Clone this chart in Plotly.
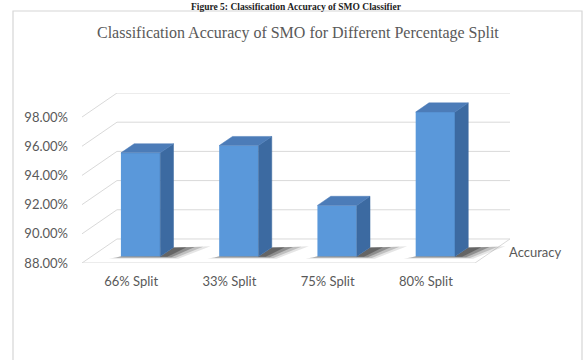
import plotly.graph_objects as go

# ---- data ----
categories = ["66% Split", "33% Split", "75% Split", "80% Split"]
accuracy = [95.1, 95.6, 91.5, 97.9]
y_ticks = [88, 90, 92, 94, 96, 98]
y_tick_labels = [f"{t:.2f}%" for t in y_ticks]
series_name = "Accuracy"
title_text = "Classification Accuracy of SMO for Different Percentage Split"
caption_text = "Figure 5: Classification Accuracy of SMO Classifier"

# ---- oblique 3D projection parameters (in axis units) ----
DX = 0.356   # horizontal depth offset (category units)
DY = 1.646   # vertical depth offset (percent units)
Z0, Z1 = 0.27, 0.65   # bar depth extent (fraction of floor depth)
BW = 0.4              # bar width
YMIN = 88

def proj(x, z, v):
    return x + z * DX, v + z * DY

FRONT = "#5a98da"
SIDE = "#3c6aa1"
TOP = "#4c7cb8"
GRID = "#d9d9d9"
TXT = "#595959"

fig = go.Figure()
shapes = []

# back wall horizontal gridlines and left-wall diagonals
n = len(categories)
xl, xr = -0.5, n - 0.5
for v in y_ticks:
    a = proj(xl, 1, v); b = proj(xr, 1, v)
    shapes.append(dict(type="line", xref="x", yref="y", x0=a[0], y0=a[1], x1=b[0], y1=b[1],
                       line=dict(color=GRID, width=1), layer="below"))
    c = proj(xl, 0, v)
    shapes.append(dict(type="line", xref="x", yref="y", x0=c[0], y0=c[1], x1=a[0], y1=a[1],
                       line=dict(color=GRID, width=1), layer="below"))
# floor front edge and right edge
f0 = proj(xl, 0, YMIN); f1 = proj(xr, 0, YMIN); f2 = proj(xr, 1, YMIN)
shapes.append(dict(type="line", xref="x", yref="y", x0=f0[0], y0=f0[1], x1=f1[0], y1=f1[1],
                   line=dict(color=GRID, width=1), layer="below"))
shapes.append(dict(type="line", xref="x", yref="y", x0=f1[0], y0=f1[1], x1=f2[0], y1=f2[1],
                   line=dict(color=GRID, width=1), layer="below"))

# chart border
L, R, T, B = 82, 510, 93, 263
def px(xp): return (xp - L) / (R - L)
def py(yp): return (B - yp) / (B - T)
shapes.append(dict(type="rect", xref="paper", yref="paper", x0=px(13), x1=px(582), y0=py(400), y1=py(11),
                   line=dict(color="#d6d6d6", width=1.2), layer="below"))

# soft shadows on floor
for i, v in enumerate(accuracy):
    x0 = i - BW / 2; x1 = i + BW / 2
    for (s, e, op) in [(0.36, 0.09, 0.12), (0.29, 0.06, 0.2), (0.21, 0.035, 0.32), (0.13, 0.015, 0.4)]:
        pts = [(x0 - e, Z0 - e), (x1 + s * 0.6, Z0 - e), (x1 + s, Z1 + e * 0.5), (x1, Z1), (x1, Z0), (x0, Z0)]
        xs, ys = zip(*[proj(a, z, YMIN) for a, z in pts])
        fig.add_trace(go.Scatter(x=list(xs) + [xs[0]], y=list(ys) + [ys[0]], mode="lines", fill="toself",
                                 fillcolor=f"rgba(40,40,40,{op})", line=dict(width=0),
                                 hoverinfo="skip", showlegend=False))

# front faces as real bars
fig.add_trace(go.Bar(
    x=[i + Z0 * DX for i in range(n)],
    y=[v - YMIN for v in accuracy],
    base=[YMIN + Z0 * DY] * n,
    width=BW,
    marker=dict(color=FRONT, line=dict(width=0)),
    name=series_name, showlegend=False,
    customdata=categories,
    hovertemplate="%{customdata}: %{y:.2f}<extra></extra>",
))

# side and top faces
for i, v in enumerate(accuracy):
    x0 = i - BW / 2; x1 = i + BW / 2
    side = [proj(x1, Z0, YMIN), proj(x1, Z1, YMIN), proj(x1, Z1, v), proj(x1, Z0, v)]
    top = [proj(x0, Z0, v), proj(x1, Z0, v), proj(x1, Z1, v), proj(x0, Z1, v)]
    for poly, col in [(side, SIDE), (top, TOP)]:
        xs, ys = zip(*poly)
        fig.add_trace(go.Scatter(x=list(xs) + [xs[0]], y=list(ys) + [ys[0]], mode="lines", fill="toself",
                                 fillcolor=col, line=dict(width=0.5, color=col),
                                 hoverinfo="skip", showlegend=False))

annotations = [
    dict(text=title_text, xref="paper", yref="paper", x=px(298), y=py(33), showarrow=False,
         font=dict(family="Liberation Serif", size=16, color=TXT), xanchor="center", yanchor="middle"),
    dict(text="<b>" + caption_text + "</b>", xref="paper", yref="paper", x=px(296), y=py(0.5), showarrow=False,
         font=dict(family="Liberation Serif", size=9.5, color="#222222"), xanchor="center", yanchor="top"),
    dict(text=series_name, xref="paper", yref="paper", x=px(507), y=py(252), showarrow=False,
         font=dict(family="Lato", size=13, color=TXT), xanchor="left", yanchor="middle"),
]

fig.update_layout(
    width=585, height=360, autosize=False,
    margin=dict(l=L, r=585 - R, t=T, b=360 - B, autoexpand=False),
    paper_bgcolor="white", plot_bgcolor="rgba(0,0,0,0)",
    shapes=shapes, annotations=annotations,
    showlegend=False,
    font=dict(family="Lato", size=13, color=TXT),
)
fig.update_xaxes(range=[xl, xr + DX], tickvals=list(range(n)), ticktext=categories,
                 showgrid=False, zeroline=False, showline=False, ticks="", ticklabelstandoff=9,
                 automargin=False, fixedrange=True, tickfont=dict(family="Lato", size=13, color=TXT))
fig.update_yaxes(range=[YMIN, y_ticks[-1] + DY], tickvals=y_ticks, ticktext=y_tick_labels,
                 showgrid=False, zeroline=False, showline=False, ticks="", ticklabelstandoff=13,
                 automargin=False, fixedrange=True, tickfont=dict(family="Lato", size=13, color=TXT))

fig.write_html("out.html")
